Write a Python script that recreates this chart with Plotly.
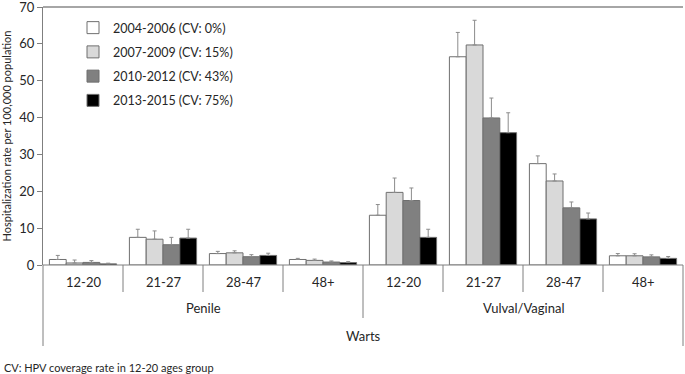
import plotly.graph_objects as go

# ---- data ----
groups = ["Penile", "Penile", "Penile", "Penile",
          "Vulval/Vaginal", "Vulval/Vaginal", "Vulval/Vaginal", "Vulval/Vaginal"]
ages = ["12-20", "21-27", "28-47", "48+", "12-20", "21-27", "28-47", "48+"]
series_names = ["2004-2006 (CV: 0%)", "2007-2009 (CV: 15%)",
                "2010-2012 (CV: 43%)", "2013-2015 (CV: 75%)"]
v_2004 = [1.5, 7.5, 3.1, 1.5, 13.5, 56.5, 27.5, 2.5]
e_2004 = [1.1, 2.2, 0.6, 0.3, 2.9, 6.6, 2.1, 0.6]
v_2007 = [0.55, 7.0, 3.3, 1.25, 19.7, 59.7, 22.8, 2.5]
e_2007 = [0.8, 2.25, 0.55, 0.35, 3.9, 6.7, 1.9, 0.55]
v_2010 = [0.7, 5.5, 2.25, 0.8, 17.5, 39.9, 15.5, 2.2]
e_2010 = [0.5, 2.0, 0.55, 0.3, 3.4, 5.4, 1.6, 0.55]
v_2013 = [0.3, 7.3, 2.6, 0.65, 7.5, 35.9, 12.5, 1.8]
e_2013 = [0.2, 2.4, 0.6, 0.25, 2.2, 5.4, 1.6, 0.5]
outer_label = "Warts"
y_title = "Hospitalization rate per 100,000 population"
footnote = "CV: HPV coverage rate in 12-20 ages group"

values = [v_2004, v_2007, v_2010, v_2013]
errors = [e_2004, e_2007, e_2010, e_2013]
fills = ["#ffffff", "#d9d9d9", "#808080", "#000000"]

cats = [f"{g}|{a}" for g, a in zip(groups, ages)]

FONT = "Lato, 'Liberation Sans', sans-serif"
TXT = "#262626"

PLOT_TOP, PLOT_BOTTOM, PLOT_LEFT, PLOT_RIGHT = 7, 265, 43, 683
PH = PLOT_BOTTOM - PLOT_TOP
PW = PLOT_RIGHT - PLOT_LEFT


def py(pix):
    return (PLOT_BOTTOM - pix) / PH


fig = go.Figure()
for i, (name, v, e, c) in enumerate(zip(series_names, values, errors, fills)):
    fig.add_trace(go.Bar(
        x=cats, y=v, name=name, legendgroup=f"g{i}",
        marker=dict(color=c, line=dict(color="#6f6f6f", width=1)),
        error_y=dict(type="data", array=e, arrayminus=[0] * len(e), symmetric=False,
                     color="#8c8c8c", thickness=1, width=2),
    ))

fig.update_layout(
    width=685, height=374,
    margin=dict(l=PLOT_LEFT, r=685 - PLOT_RIGHT, t=PLOT_TOP, b=374 - PLOT_BOTTOM,
                autoexpand=False),
    paper_bgcolor="white", plot_bgcolor="white",
    barmode="group", bargap=0.16, bargroupgap=0,
    font=dict(family=FONT, size=12, color=TXT),
    showlegend=True,
    legend=dict(x=(73 - PLOT_LEFT) / PW, y=py(13), xanchor="left", yanchor="top",
                bgcolor="rgba(0,0,0,0)", font=dict(size=12.5, color=TXT),
                traceorder="grouped", tracegroupgap=5, itemwidth=30),
)

fig.update_xaxes(
    type="category", categoryorder="array", categoryarray=cats,
    showticklabels=False, ticks="", showgrid=False, zeroline=False,
    showline=False, range=[-0.5, len(cats) - 0.5], automargin=False,
)
fig.update_yaxes(
    range=[0, 70], dtick=10, showgrid=False, zeroline=False,
    showline=True, linecolor="#7f7f7f", linewidth=1,
    ticks="outside", ticklen=5, tickcolor="#7f7f7f",
    tickfont=dict(size=13, color=TXT), automargin=False, ticklabeloverflow="allow",
    title=dict(text=y_title, font=dict(size=11, color=TXT), standoff=10),
)

shapes = []
line_c = "#7f7f7f"
shapes.append(dict(type="line", xref="paper", yref="paper", x0=0, x1=1, y0=1, y1=1,
                   line=dict(color="#a6a6a6", width=2)))
shapes.append(dict(type="line", xref="paper", yref="paper", x0=0, x1=1, y0=0, y1=0,
                   line=dict(color=line_c, width=1)))
n = len(cats)
for k in range(1, n):
    if k == 4:
        continue
    shapes.append(dict(type="line", xref="x", yref="paper", x0=k - 0.5, x1=k - 0.5,
                       y0=0, y1=py(292), line=dict(color=line_c, width=1)))
shapes.append(dict(type="line", xref="x", yref="paper", x0=3.5, x1=3.5,
                   y0=0, y1=py(318), line=dict(color=line_c, width=1)))
for xp in (0, 1):
    shapes.append(dict(type="line", xref="paper", yref="paper", x0=xp, x1=xp,
                       y0=0, y1=py(346), line=dict(color=line_c, width=1)))

annotations = []
for c, a in zip(cats, ages):
    annotations.append(dict(x=c, y=py(282), xref="x", yref="paper", text=a,
                            showarrow=False, font=dict(size=13, color=TXT),
                            xanchor="center", yanchor="middle"))
for gname, pos in (("Penile", 1.5), ("Vulval/Vaginal", 5.5)):
    annotations.append(dict(x=pos, y=py(308), xref="x", yref="paper", text=gname,
                            showarrow=False, font=dict(size=13, color=TXT),
                            xanchor="center", yanchor="middle"))
annotations.append(dict(x=0.5, y=py(336), xref="paper", yref="paper", text=outer_label,
                        showarrow=False, font=dict(size=13, color=TXT),
                        xanchor="center", yanchor="middle"))
annotations.append(dict(x=(2 - PLOT_LEFT) / PW, y=py(367), xref="paper", yref="paper",
                        text=footnote, showarrow=False, font=dict(size=11, color=TXT),
                        xanchor="left", yanchor="middle"))

fig.update_layout(shapes=shapes, annotations=annotations)

fig.write_html("out.html", config={"displayModeBar": False},
               post_script="document.body.style.margin='0';document.body.style.overflow='hidden';")
